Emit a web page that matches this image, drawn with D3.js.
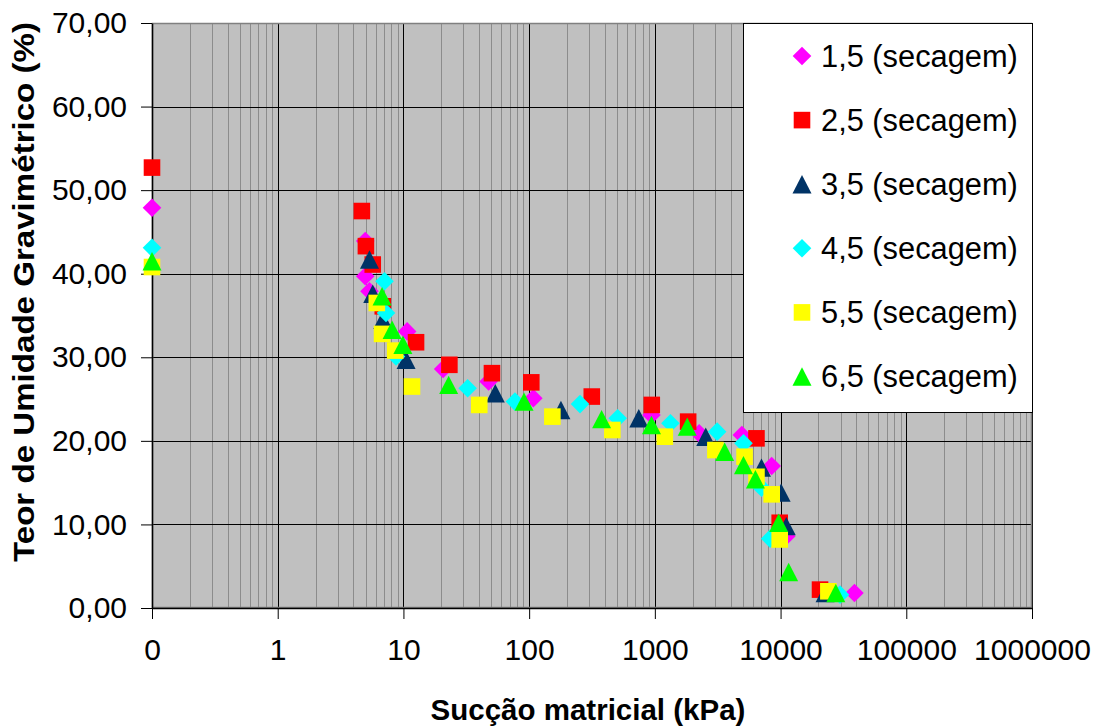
<!DOCTYPE html>
<html><head><meta charset="utf-8">
<script src="https://cdn.jsdelivr.net/npm/d3@7"></script>
<style>body{margin:0;background:#fff}svg{display:block}</style>
</head><body>
<svg id="c" width="1096" height="727"></svg>
<script>
// ---- data ----
const seriesNames = ["1,5 (secagem)","2,5 (secagem)","3,5 (secagem)","4,5 (secagem)","5,5 (secagem)","6,5 (secagem)"];
const seriesColors = ["#FF00FF","#FF0000","#003366","#00FFFF","#FFFF00","#00FF00"];
const seriesShapes = ["diamond","square","triangle","diamond","square","triangle"];
const s15 = [[0.1,47.9],[4.97,43.9],[4.97,39.7],[5.37,37.9],[10.7,33.1],[20.7,28.6],[47.6,27.1],[108,25.1],[940,23.1],[2250,20.9],[4920,20.7],[8500,17.0],[11100,8.6],[38700,1.8]];
const s25 = [[0.1,52.7],[4.67,47.5],[5.03,43.3],[5.70,41.1],[6.85,36.1],[12.6,31.8],[23.2,29.1],[50.6,28.1],[104,27.0],[315,25.3],[945,24.3],[1840,22.3],[6430,20.3],[9840,10.2],[20600,2.2]];
const s35 = [[5.37,41.7],[5.70,37.6],[6.85,34.5],[10.5,29.7],[53.8,25.7],[179,23.7],[745,22.7],[2540,20.5],[7050,16.8],[10100,13.8],[11100,9.8],[22600,1.8]];
const s45 = [[0.1,43.1],[7.07,39.1],[7.27,35.3],[8.73,30.1],[32.4,26.3],[77.1,24.7],[254,24.4],[506,22.7],[1330,22.1],[3130,21.1],[5070,19.7],[7050,14.4],[8250,8.3],[29700,1.6]];
const s55 = [[0.1,40.8],[6.14,36.5],[6.76,32.8],[8.6,30.8],[11.7,26.5],[40.1,24.3],[153,22.9],[459,21.3],[1200,20.5],[3030,18.9],[5170,18.1],[6430,15.7],[8500,13.6],[9840,8.2],[24000,2.0]];
const s65 = [[0.1,41.5],[6.76,37.3],[8.13,33.3],[9.9,31.5],[22.9,26.7],[91.1,24.7],[377,22.6],[940,21.9],[1810,21.7],[3590,18.7],[5070,17.1],[6310,15.4],[9660,10.2],[11600,4.3],[27500,1.8]];
const seriesData = [s15,s25,s35,s45,s55,s65];
const xTickValues = [0.1,1,10,100,1000,10000,100000,1000000];
const xTickLabels = ["0","1","10","100","1000","10000","100000","1000000"];
const yTickValues = [0,10,20,30,40,50,60,70];
const xTitle = "Sucção matricial (kPa)";
const yTitle = "Teor de Umidade Gravimétrico (%)";

// ---- layout ----
const L=152, R=1032, T=23, B=608;
const svg = d3.select("#c");
const x = d3.scaleLog().domain([0.1,1e6]).range([L,R]);
const y = d3.scaleLinear().domain([0,70]).range([B,T]);
const loc = d3.formatLocale({decimal:",",thousands:".",grouping:[3],currency:["",""]});
const yfmt = loc.format(".2f");
const FONT = "'Liberation Sans', Arial, sans-serif";

svg.append("rect").attr("x",L).attr("y",T).attr("width",R-L).attr("height",B-T).attr("fill","#C0C0C0");

// minor vertical gridlines
const allX = x.ticks();
svg.append("g").selectAll("line").data(allX.filter(v=>!xTickValues.some(t=>Math.abs(t-v)/t<1e-9)))
  .join("line").attr("x1",d=>Math.round(x(d))+0.5).attr("x2",d=>Math.round(x(d))+0.5)
  .attr("y1",T).attr("y2",B).attr("stroke","#8C8C8C").attr("stroke-width",1);
// major vertical
svg.append("g").selectAll("line").data(xTickValues)
  .join("line").attr("x1",d=>Math.round(x(d))+0.5).attr("x2",d=>Math.round(x(d))+0.5)
  .attr("y1",T).attr("y2",B).attr("stroke","#000").attr("stroke-width",1);
// horizontal
svg.append("g").selectAll("line").data(yTickValues)
  .join("line").attr("x1",L).attr("x2",R).attr("y1",d=>Math.round(y(d))+0.5).attr("y2",d=>Math.round(y(d))+0.5)
  .attr("stroke","#000").attr("stroke-width",1);
// border
svg.append("rect").attr("x",L+0.5).attr("y",T+0.5).attr("width",R-L-1).attr("height",B-T-1)
  .attr("fill","none").attr("stroke","#808080").attr("stroke-width",1.5);

// axes
const xAxis = d3.axisBottom(x).tickValues(xTickValues).tickFormat((d,i)=>xTickLabels[i]).tickSize(11).tickSizeOuter(0).tickPadding(20);
const gx = svg.append("g").attr("transform",`translate(0,${B})`).call(xAxis);
gx.select(".domain").attr("stroke","#000").attr("stroke-width",1.5);
gx.selectAll(".tick line").attr("stroke","#000");
gx.selectAll("text").attr("font-family",FONT).attr("font-size",30).attr("fill","#000");

const yAxis = d3.axisLeft(y).tickValues(yTickValues).tickFormat(yfmt).tickSize(11).tickSizeOuter(0).tickPadding(14);
const gy = svg.append("g").attr("transform",`translate(${L},0)`).call(yAxis);
gy.select(".domain").attr("stroke","#000").attr("stroke-width",1.5);
gy.selectAll(".tick line").attr("stroke","#000");
gy.selectAll("text").attr("font-family",FONT).attr("font-size",30).attr("fill","#000");

// titles
svg.append("text").attr("x",(L+R)/2-4).attr("y",720).attr("text-anchor","middle")
  .attr("font-family",FONT).attr("font-weight","bold").attr("font-size",29.5).text(xTitle);
svg.append("text").attr("transform",`translate(34,292) rotate(-90)`).attr("text-anchor","middle")
  .attr("font-family",FONT).attr("font-weight","bold").attr("font-size",30)
  .attr("textLength",540).attr("lengthAdjust","spacingAndGlyphs").text(yTitle);

// marker shapes
function shapePath(shape){
  if(shape==="square"){const h=8.3;return `M${-h},${-h}H${h}V${h}H${-h}Z`;}
  if(shape==="diamond"){const h=9.3;return `M0,${-h}L${h},0L0,${h}L${-h},0Z`;}
  const w=9.5,hh=9.2;return `M0,${-hh}L${w},${hh}L${-w},${hh}Z`;
}
seriesData.forEach((data,i)=>{
  svg.append("g").selectAll("path").data(data).join("path")
    .attr("d",shapePath(seriesShapes[i]))
    .attr("transform",d=>`translate(${x(d[0])},${y(d[1])})`)
    .attr("fill",seriesColors[i]);
});

// legend
const lg = svg.append("g");
lg.append("rect").attr("x",743.5).attr("y",23.5).attr("width",289).attr("height",389)
  .attr("fill","#fff").attr("stroke","#000").attr("stroke-width",1);
seriesNames.forEach((n,i)=>{
  const cy = 56 + i*64.1;
  lg.append("path").attr("d",shapePath(seriesShapes[i])).attr("transform",`translate(802,${cy})`).attr("fill",seriesColors[i]);
  lg.append("text").attr("x",821).attr("y",cy).attr("dy","0.35em").attr("font-family",FONT).attr("font-size",30.8).text(n);
});
</script>
</body></html>
